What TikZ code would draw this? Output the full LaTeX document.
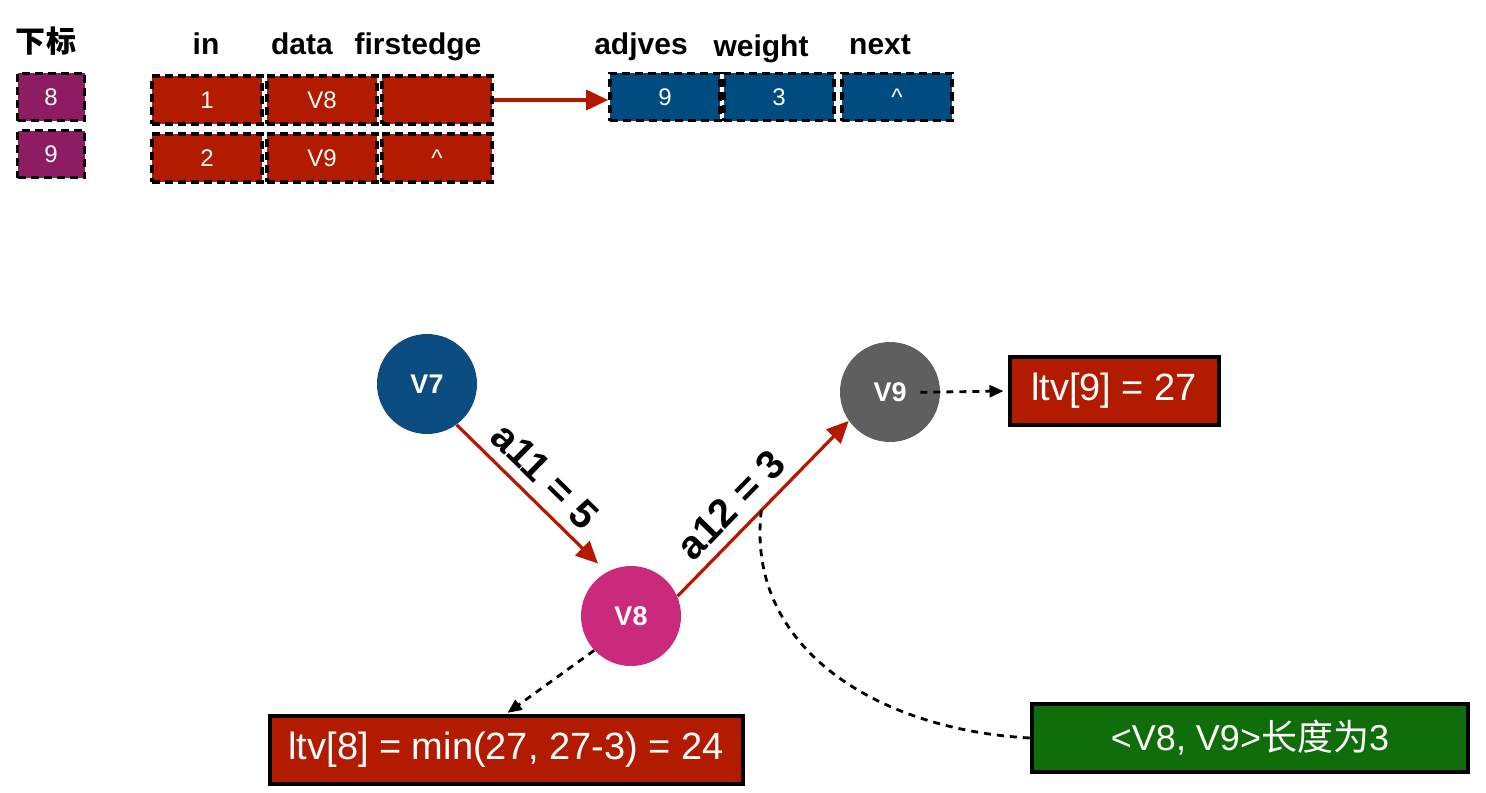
\documentclass[tikz,border=0pt]{standalone}
\usepackage{fontspec}
\setmainfont{Liberation Sans}
\newfontfamily\cjk{Noto Sans CJK SC}
\usetikzlibrary{arrows.meta}
\definecolor{cellred}{RGB}{178,27,0}
\definecolor{cellblue}{RGB}{0,75,128}
\definecolor{idxpurple}{RGB}{142,28,98}
\definecolor{vblue}{RGB}{11,77,128}
\definecolor{vpink}{RGB}{201,42,124}
\definecolor{vgray}{RGB}{95,95,95}
\definecolor{notegreen}{RGB}{16,110,10}
\definecolor{arrowred}{RGB}{180,25,0}
\tikzset{
	cell/.style={draw=black,line width=1.8pt,dash pattern=on 4pt off 2.5pt,minimum width=55pt,minimum height=24pt,inner sep=0pt,text=white,font=\fontsize{12}{14}\selectfont},
	vcell/.style={cell,fill=cellred},
	ecell/.style={cell,fill=cellblue,minimum height=23.5pt},
	icell/.style={cell,fill=idxpurple,minimum width=33.5pt,minimum height=23.5pt},
	head/.style={anchor=base,font=\fontsize{15}{18}\selectfont\bfseries},
	vert/.style={circle,minimum size=50pt,inner sep=0pt,text=white,font=\fontsize{13.5}{16}\selectfont\bfseries},
	resbox/.style={draw=black,line width=2pt,minimum height=34pt,text=white,font=\fontsize{19}{22}\selectfont},
	redarrow/.style={draw=arrowred,line width=1.6pt,-{Triangle[length=11pt,width=10pt]}},
	dashline/.style={line width=1.4pt,dash pattern=on 3.5pt off 3pt},
	dasharrow/.style={dashline,-{Triangle[length=7pt,width=6pt]}},
	weightlbl/.style={sloped,above,inner sep=5pt,font=\fontsize{20}{24}\selectfont\bfseries}
}
\begin{document}
\begin{tikzpicture}[x=0.5pt,y=-0.5pt]
			\useasboundingbox (0,0) rectangle (1486,792);
			\node[head] (hidx) at (46,53) {\cjk 下标};
			\node[head] (hin) at (206,55) {in};\node[head] (hdata) at (302,55) {data};
			\node[head] (hfirst) at (418,55) {firstedge};
			\node[head] (hadj) at (641,55) {adjves};\node[head] (hweight) at (761,57) {weight};
			\node[head] (hnext) at (880,55) {next};
			\node[icell] (i8) at (51,97) {8};\node[icell] (i9) at (51,154) {9};
			\node[vcell] (in8) at (207,100) {1};\node[vcell] (d8) at (322,100) {V8};\node[vcell] (fe8) at (437,100) {};
			\node[vcell] (in9) at (207,158) {2};\node[vcell] (d9) at (322,158) {V9};\node[vcell] (fe9) at (437,158) {\textasciicircum};
			\node[ecell] (adj) at (665,97) {9};\node[ecell] (wt) at (779,97) {3};\node[ecell] (nxt) at (897,97) {\textasciicircum};
			\draw[redarrow] (fe8.east) -- (fe8.east -| adj.west);
			\node[vert,fill=vblue] (V7) at (427,384) {V7};
			\node[vert,fill=vpink] (V8) at (631,616) {V8};
			\node[vert,fill=vgray] (V9) at (890,392) {V9};
			\draw[redarrow,shorten >=6pt] (V7.-54) -- node[weightlbl,pos=0.47]{a11 = 5} (V8.119);
			\draw[redarrow] (V8.23) -- node[weightlbl,pos=0.42]{a12 = 3} coordinate[pos=0.49] (onedge) (V9.-145);
			\node[resbox,fill=cellred,minimum width=104.5pt] (ltv9) at (1114,391) {ltv[9] = 27};
			\node[resbox,fill=cellred,minimum width=236.5pt] (ltv8) at (506,750) {ltv[8] = min(27, 27-3) = 24};
			\node[resbox,fill=notegreen,minimum width=218pt,font=\fontsize{18}{21}\selectfont] (len) at (1250,738) {<V8, V9>{\cjk 长度为}3};
			\draw[dasharrow,shorten <=-10pt,shorten >=2pt] (V9.east) -- (ltv9.west);
			\draw[dasharrow,shorten >=1pt] (V8.-137) -- (ltv8.north);
			\draw[dashline] (onedge) .. controls (745,650) and (880,730) .. (len.west);
			\end{tikzpicture}
\end{document}
